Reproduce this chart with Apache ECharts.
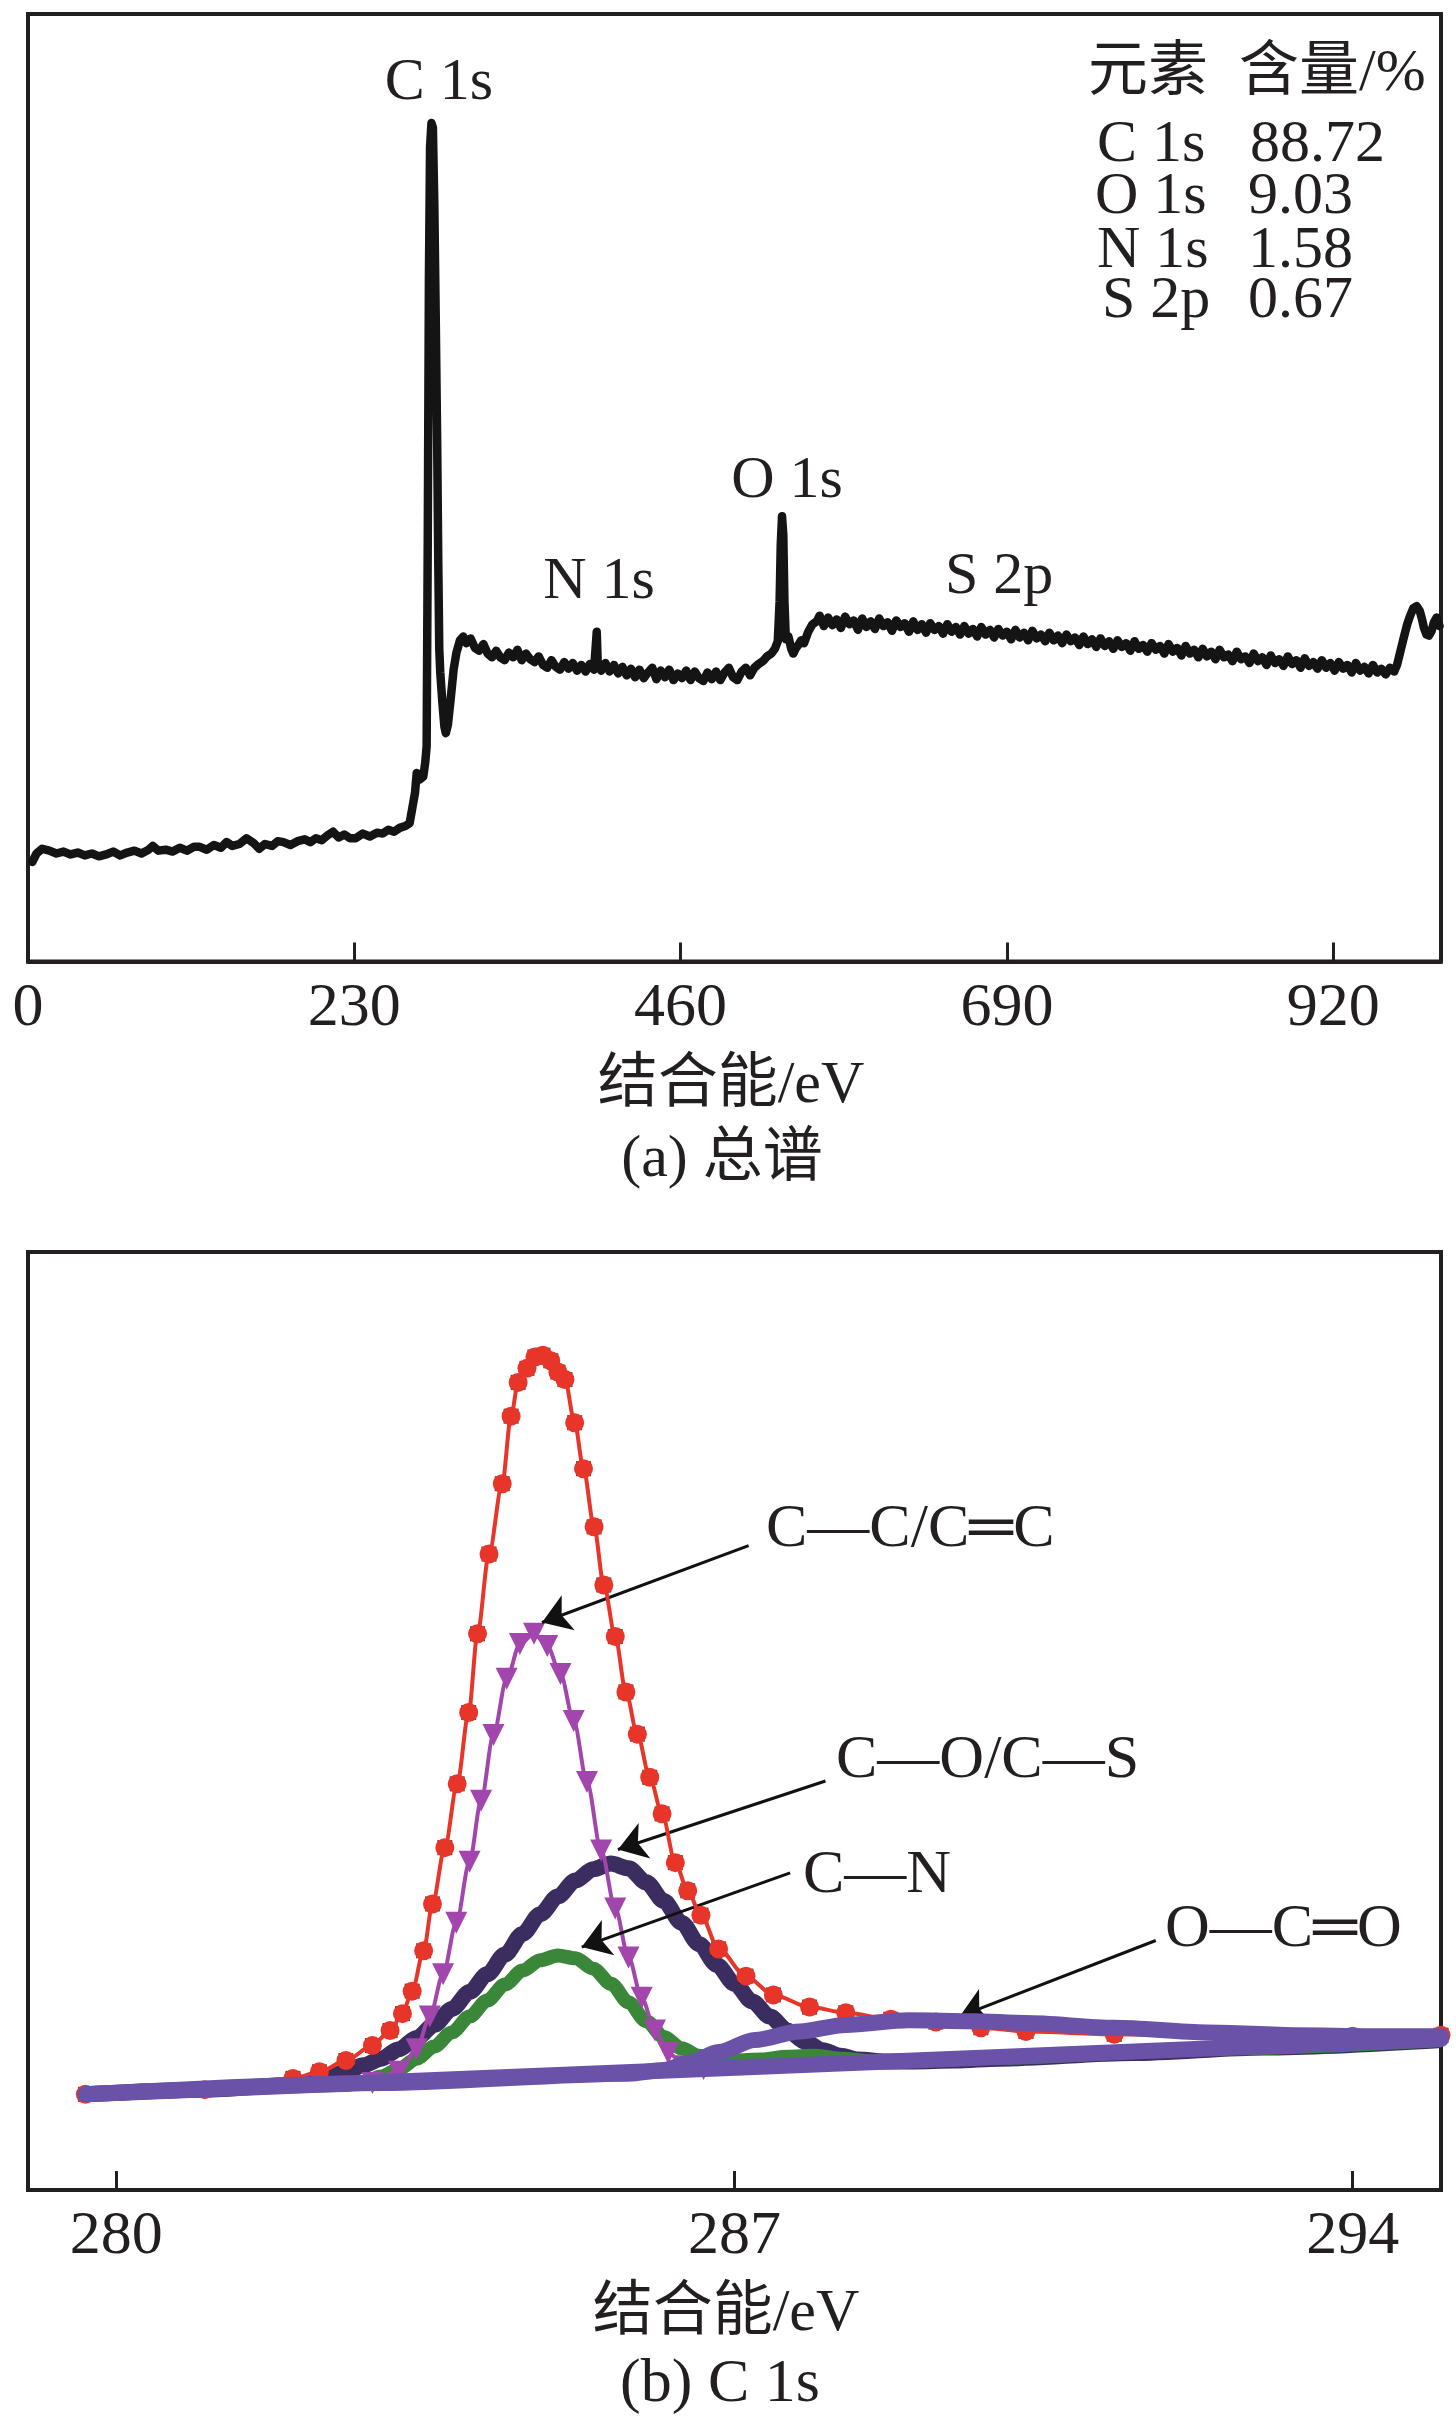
<!DOCTYPE html>
<html>
<head>
<meta charset="utf-8">
<script src="https://cdn.jsdelivr.net/npm/echarts@6/dist/echarts.min.js"></script>
<style>
html,body{margin:0;padding:0;background:#fff;}
#c{width:1456px;height:2416px;}
</style>
</head>
<body>
<div id="c"></div>
<script>
// ---------- (a) survey spectrum ----------
const surveyTicks = [0, 230, 460, 690, 920];
const surveyE = [3,6,10,15,20,25,30,35,40,45,50,55,60,65,70,75,80,85,88,92,97,102,107,112,117,121,126,131,136,140,144,149,154,159,163,167,172,176,180,185,190,195,199,203,207,211,215,219,223,227,231,236,241,246,250,254,258,262,266,269,
272.8,274,276,278.6,280,281.0,281.8,282.6,283.4,284.4,285.4,286.4,287.4,288.4,289.2,289.9,290.6,292,293.5,294.5,296,298,300,302,304.5,306.8,
309,312,315,318,321,324,327,330,333,336,339,342,345,348,351,354,357,360,363,366,369,372,375,378,381,384,387,390,393,396,399,400.3,400.9,401.6,404,407,410,413,416,419,422,425,428,431,434,437,440,443,446,449,452,455,458,461,464,467,470,473,476,479,482,485,488,491,494,497,500,503,506,509,512,515,518,521,524,526.5,528.5,529.8,530.6,531.5,532.4,533.2,534.2,536,538,539.4,541,543,545,547,550,553,556,558,
561,564,567,570,573,576,579,582,585,588,591,594,597,600,603,606,609,612,615,618,621,624,627,630,633,636,639,642,645,648,651,654,657,660,663,666,669,672,675,678,681,684,687,690,693,696,699,702,705,708,711,714,717,720,723,726,729,732,735,738,741,744,747,750,753,756,759,762,765,768,771,774,777,780,783,786,789,792,795,798,801,804,807,810,813,816,819,822,825,828,831,834,837,840,843,846,849,852,855,858,861,864,867,870,873,876,879,882,885,888,891,894,897,900,903,906,909,912,915,918,921,924,927,930,933,936,939,942,945,948,951,954,957,960,963,965,967,969.3,972,974,976.5,978.8,981,982.5,984,985.8,987.5,989.4,991,992.9,995];
const surveyI = [10.5,11.4,11.9,11.7,11.4,11.6,11.3,11.5,11.2,11.4,11.1,11.3,11.6,11.2,11.5,11.7,11.4,11.8,12.2,11.7,11.8,11.6,12.0,11.7,12.1,12.1,11.8,12.3,12.0,12.6,12.2,12.4,13.0,12.5,11.9,12.4,12.2,12.7,12.6,12.3,12.7,12.9,12.6,13.0,12.8,13.3,13.7,13.1,13.4,13.0,13.0,13.5,13.2,13.6,13.5,13.9,13.7,14.1,14.3,14.6,
17.8,19.9,19.2,19.5,21.0,22.7,45,72,86,88.5,88.0,80,68,55,42,33,30.5,27.5,24.8,24.1,25,27.8,30.8,32.6,33.9,34.3,
33.6,34.1,33.1,32.8,33.5,32.5,32.1,32.8,32.1,31.8,32.6,32.1,32.9,31.8,32.5,31.9,31.6,32.2,31.3,31.0,31.8,31.1,30.8,31.6,30.9,31.5,30.7,31.3,30.6,31.4,30.8,33.5,34.8,31.4,30.7,31.5,30.6,31.3,30.4,31.1,30.2,30.9,30.0,30.8,29.9,30.5,31.0,29.8,30.7,30.0,30.8,29.7,30.4,29.9,30.7,29.7,30.6,29.9,29.6,30.5,29.8,30.6,29.7,30.5,31.0,30.0,29.7,30.6,31.0,30.2,31.0,31.4,31.7,32.2,32.5,33.0,33.8,38,44,47.0,45,38,34.0,34.3,33.0,32.5,33.0,33.4,33.9,33.6,34.8,35.6,35.9,36.5,
35.4,36.3,35.5,36.1,35.2,36.4,35.6,36.0,35.0,36.2,35.3,35.9,35.1,36.2,35.4,35.8,34.9,36.0,35.3,35.7,34.8,35.9,35.0,35.6,34.7,35.7,35.0,35.4,34.6,35.6,34.8,35.3,34.5,35.4,34.6,35.1,34.3,35.3,34.5,35.0,34.2,35.1,34.4,34.8,34.0,35.0,34.2,34.7,33.9,34.9,34.1,34.5,33.8,34.7,33.9,34.4,33.6,34.5,33.8,34.2,33.4,34.3,33.5,34.0,33.2,34.1,33.3,33.8,33.0,33.9,33.2,33.6,32.8,33.8,33.0,33.4,32.7,33.6,32.9,33.3,32.5,33.5,32.7,33.1,32.3,33.3,32.5,32.9,32.1,33.0,32.2,32.7,31.9,32.9,32.1,32.4,31.7,32.7,31.9,32.2,31.5,32.5,31.7,32.1,31.3,32.3,31.5,31.9,31.2,32.2,31.4,31.8,31.0,32.0,31.2,31.6,30.9,31.8,31.0,31.5,30.7,31.6,30.9,31.3,30.5,31.5,30.7,31.1,30.4,31.3,30.5,30.9,30.3,31.0,30.6,31.3,32.5,33.9,35.5,36.4,37.3,37.5,37.0,36.2,35.2,34.5,34.4,34.9,35.8,36.3,35.4];
const surveyPeaks = ['C 1s', 'N 1s', 'O 1s', 'S 2p'];
const tableHead = ['元素', '含量/%'];
const tableElements = ['C 1s', 'O 1s', 'N 1s', 'S 2p'];
const tableContents = ['88.72', '9.03', '1.58', '0.67'];

// ---------- (b) C 1s high-resolution ----------
const c1sTicks = [280, 287, 294];
const backgroundE = [279.65, 295.0];
const backgroundI = [10.2, 16.1];
const envelopeE = [279.65,281.0,282.0,282.3,282.6,282.9,283.1,283.24,283.35,283.48,283.58,283.72,283.86,283.99,284.09,284.22,284.37,284.47,284.55,284.65,284.74,284.83,284.92,285.0,285.08,285.19,285.29,285.41,285.52,285.65,285.77,285.9,286.04,286.18,286.33,286.47,286.62,286.82,287.13,287.44,287.85,288.26,288.77,289.28,289.79,290.3,291.3,292.5,294.0,295.0];
const envelopeI = [10.2,10.7,11.9,12.6,13.8,15.4,17.0,18.8,21.2,25.5,30.5,36.5,43.3,50.9,59.3,67.8,75.3,82.5,86.1,87.6,88.8,89.0,88.4,87.2,86.4,81.8,76.9,70.7,64.5,59.0,53.1,48.6,44.0,40.1,34.9,31.9,29.3,25.7,22.8,20.8,19.5,18.9,18.2,17.9,17.3,16.9,16.6,16.5,16.4,16.5];
const ccE = [282.9,283.2,283.4,283.55,283.7,283.85,284.0,284.13,284.27,284.42,284.57,284.73,284.88,285.03,285.18,285.33,285.49,285.65,285.8,285.95,286.1,286.25,286.45,286.65];
const ccI = [11.4,12.6,15.0,18.5,23.0,28.5,35.0,41.5,48.5,54.5,58.2,59.3,58.0,55.0,50.0,43.5,36.2,30.0,24.8,20.5,17.0,14.6,13.2,12.9];
const coE = [279.65,281.0,282.0,282.2,282.4,282.6,282.8,283.0,283.2,283.4,283.6,283.8,284.0,284.2,284.4,284.6,284.8,285.0,285.2,285.4,285.6,285.8,286.0,286.2,286.4,286.6,286.8,287.0,287.2,287.4,287.6,287.8,288.0,288.2,288.4,288.7,289.0,289.5,290.0,291.5,293.0,295.0];
const coI = [10.2,10.7,11.2,11.5,12.0,12.6,13.3,14.0,15.0,16.2,17.6,19.3,21.1,23.0,25.1,27.3,29.4,31.3,33.0,34.2,34.8,34.3,32.8,30.8,28.5,26.2,24.0,22.0,20.1,18.5,17.0,15.8,14.9,14.3,13.9,13.7,13.7,13.8,14.0,14.6,15.2,16.0];
const cnE = [279.65,281.5,282.6,282.8,283.0,283.2,283.4,283.6,283.8,284.0,284.2,284.4,284.6,284.8,285.0,285.2,285.4,285.6,285.8,286.0,286.2,286.4,286.6,286.8,287.0,287.3,287.6,287.9,288.2,288.6,289.0,290.0,292.5,295.0];
const cnI = [10.2,10.9,11.2,11.5,12.1,12.9,14.0,15.3,16.8,18.5,20.2,21.9,23.4,24.5,25.0,24.7,23.6,22.0,20.0,18.0,16.3,15.1,14.3,13.9,13.8,13.9,14.2,14.3,14.0,13.7,13.8,14.1,15.1,16.0];
const ocoE = [279.65,283.0,285.8,286.2,286.5,286.82,287.23,287.74,288.26,288.97,289.69,290.3,291.3,292.35,293.37,294.2,295.0];
const ocoI = [10.2,11.4,12.4,12.8,13.6,14.7,16.0,16.9,17.6,18.1,18.0,17.8,17.3,16.8,16.5,16.4,16.4];
const c1sLabels = ['C—C/C═C', 'C—O/C—S', 'C—N', 'O—C═O'];

// ---------- helpers ----------
const pairs = (xs, ys) => xs.map((x, i) => [x, ys[i]]);
const INK = '#231f20';
const FONT = '"Liberation Serif", "Times New Roman", "Noto Sans CJK SC", serif';
function txt(text, x, y, align, size) {
  return {type: 'text', x: x, y: y, silent: true, z: 100,
    style: {text: text, fontSize: size || 60, fontFamily: FONT, fill: INK,
            align: align || 'left', verticalAlign: 'middle'}};
}

const chart = echarts.init(document.getElementById('c'), null, {renderer: 'canvas', width: 1456, height: 2416});

const xAxisCommon = (gi, min, max, ticks) => ({
  gridIndex: gi, type: 'value', min: min, max: max,
  axisLine: {show: true, onZero: false, lineStyle: {color: INK, width: 4}},
  axisTick: {show: true, inside: true, length: 19, customValues: ticks, lineStyle: {color: INK, width: 3}},
  axisLabel: {show: true, customValues: ticks, fontSize: 62, fontFamily: FONT, color: INK, margin: 16},
  splitLine: {show: false}
});

const option = {
  animation: false,
  backgroundColor: '#ffffff',
  grid: [
    {left: 28, top: 14, width: 1413, height: 947.5, show: true, borderColor: INK, borderWidth: 4},
    {left: 28, top: 1252, width: 1413, height: 938, show: true, borderColor: INK, borderWidth: 4}
  ],
  xAxis: [xAxisCommon(0, 0, 996, surveyTicks), xAxisCommon(1, 279, 295, c1sTicks)],
  yAxis: [
    {gridIndex: 0, type: 'value', min: 0, max: 100, show: false},
    {gridIndex: 1, type: 'value', min: 0, max: 100, show: false}
  ],
  series: [
    {name: 'survey', type: 'line', xAxisIndex: 0, yAxisIndex: 0, data: pairs(surveyE, surveyI),
     showSymbol: false, lineStyle: {color: '#141414', width: 8.5, join: 'round', cap: 'round'}, z: 3},
    {name: 'C—O/C—S', type: 'line', xAxisIndex: 1, yAxisIndex: 1, data: pairs(coE, coI),
     smooth: 0.3, smoothMonotone: 'x', showSymbol: false, lineStyle: {color: '#3b2d5f', width: 16}, z: 2},
    {name: 'C—N', type: 'line', xAxisIndex: 1, yAxisIndex: 1, data: pairs(cnE, cnI),
     smooth: 0.3, smoothMonotone: 'x', showSymbol: false, lineStyle: {color: '#3a873a', width: 14}, z: 3},
    {name: 'C—C/C═C', type: 'line', xAxisIndex: 1, yAxisIndex: 1, data: pairs(ccE, ccI),
     smooth: 0.3, smoothMonotone: 'x', showAllSymbol: true, symbol: 'triangle', symbolRotate: 180, symbolSize: 22,
     itemStyle: {color: '#a245ac'}, lineStyle: {color: '#a245ac', width: 4}, z: 4},
    {name: 'raw', type: 'scatter', xAxisIndex: 1, yAxisIndex: 1, data: pairs(envelopeE, envelopeI),
     symbol: 'rect', symbolSize: 15, itemStyle: {color: '#111111'}, z: 5},
    {name: 'envelope', type: 'line', xAxisIndex: 1, yAxisIndex: 1, data: pairs(envelopeE, envelopeI),
     smooth: 0.3, smoothMonotone: 'x', showAllSymbol: true, symbol: 'circle', symbolSize: 19,
     itemStyle: {color: '#e8352a'}, lineStyle: {color: '#e8352a', width: 4}, z: 6},
    {name: 'O—C═O', type: 'line', xAxisIndex: 1, yAxisIndex: 1, data: pairs(ocoE, ocoI),
     smooth: 0.3, smoothMonotone: 'x', showSymbol: false, lineStyle: {color: '#6a52a8', width: 16, cap: 'round'}, z: 7},
    {name: 'background', type: 'line', xAxisIndex: 1, yAxisIndex: 1, data: pairs(backgroundE, backgroundI),
     showSymbol: false, lineStyle: {color: '#6a52a8', width: 16, cap: 'round'}, z: 8,
     markLine: {silent: true, symbol: ['none', 'arrow'], symbolSize: 28, animation: false,
       label: {show: false}, lineStyle: {color: '#111111', width: 3, type: 'solid'},
       data: [
         [{coord: [287.16, 68.7]}, {coord: [284.82, 60.5]}],
         [{coord: [288.03, 43.6]}, {coord: [285.68, 36.3]}],
         [{coord: [287.63, 33.8]}, {coord: [285.27, 25.9]}],
         [{coord: [291.77, 26.6]}, {coord: [289.55, 18.5]}]
       ]}}
  ],
  graphic: {elements: [
    txt(surveyPeaks[0], 439, 83, 'center'),
    txt(surveyPeaks[1], 599, 582, 'center'),
    txt(surveyPeaks[2], 787, 481, 'center'),
    txt(surveyPeaks[3], 945, 577, 'left'),
    txt(tableHead[0], 1088, 74, 'left'),
    txt(tableHead[1], 1239, 74, 'left'),
    txt(tableElements[0], 1097, 145.5, 'left'), txt(tableContents[0], 1250, 145.5, 'left'),
    txt(tableElements[1], 1095, 197, 'left'),   txt(tableContents[1], 1248, 197, 'left'),
    txt(tableElements[2], 1097, 251, 'left'),   txt(tableContents[2], 1248, 251, 'left'),
    txt(tableElements[3], 1102, 301.5, 'left'), txt(tableContents[3], 1248, 301.5, 'left'),
    txt('结合能/eV', 731, 1086, 'center'),
    txt('(a) 总谱', 722, 1160, 'center'),
    txt(c1sLabels[0], 766, 1530, 'left', 62),
    txt(c1sLabels[1], 836, 1761, 'left', 62),
    txt(c1sLabels[2], 803, 1876, 'left', 62),
    txt(c1sLabels[3], 1165, 1930, 'left', 62),
    txt('结合能/eV', 726, 2314, 'center'),
    txt('(b) C 1s', 720, 2385, 'center', 62)
  ]}
};
chart.setOption(option);
</script>
</body>
</html>
